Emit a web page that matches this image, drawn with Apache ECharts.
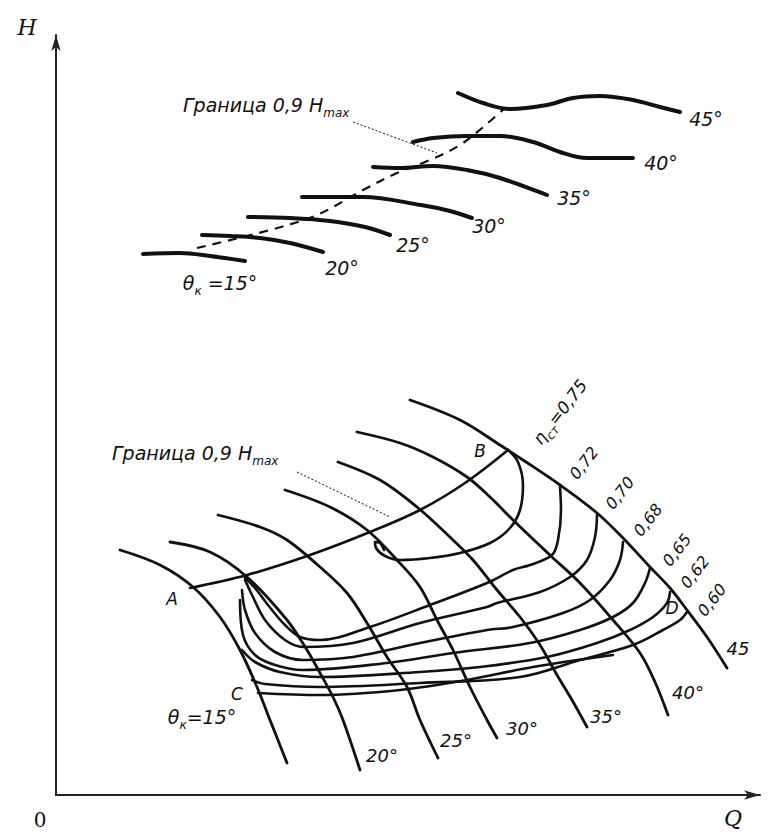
<!DOCTYPE html>
<html><head><meta charset="utf-8">
<script src="https://cdn.jsdelivr.net/npm/echarts@6/dist/echarts.min.js"></script>
<style>html,body{margin:0;padding:0;background:#fff}#c{width:770px;height:838px}</style>
</head><body><div id="c"></div>
<script>
// Axis extents (arbitrary units Q, H)
const Q_MAX = 704, H_MAX = 760;

// Upper family: H(Q) curves for each blade angle theta_k
const up15 = [[87,541],[124,542],[154,539],[189,534]];
const up20 = [[146,560],[174,559],[204,557],[234,552],[267,543]];
const up25 = [[192,578],[234,577],[274,574],[309,568],[334,560]];
const up30 = [[246,598],[307,598],[365,590],[394,584],[416,577]];
const up35 = [[317,628],[344,627],[377,629],[411,625],[444,617],[491,600]];
const up40 = [[357,653],[377,657],[411,659],[444,659],[477,653],[504,643],[531,637],[577,637]];
const up45 = [[402,702],[427,692],[454,686],[491,690],[517,697],[544,699],[577,695],[604,688],[624,683]];
const upBoundary = [[141,547],[214,565],[261,580],[307,605],[341,622],[374,635],[404,650],[426,667],[449,687]];
const upLeader = [[297,673],[381,642]];

// Lower family: characteristic arcs for each theta_k
const low15 = [[64,245],[104,230],[137,208],[164,178],[184,145],[201,108],[214,75],[231,32]];
const low20 = [[114,253],[154,243],[191,218],[231,175],[251,145],[264,122],[277,98],[287,75],[304,25]];
const low25 = [[162,280],[204,268],[231,255],[264,228],[291,202],[311,172],[331,138],[351,108],[364,75],[382,37]];
const low30 = [[229,305],[274,288],[311,265],[341,235],[364,208],[381,175],[397,145],[414,108],[431,75],[441,57]];
const low35 = [[282,333],[324,315],[361,288],[397,255],[417,235],[441,205],[464,178],[484,150],[501,120],[516,95],[531,68]];
const low40 = [[301,363],[344,352],[377,338],[411,318],[434,298],[457,275],[496,238],[524,212],[557,175],[584,142],[599,113],[612,80]];
const low45 = [[354,395],[404,375],[444,350],[467,335],[504,310],[541,282],[567,257],[594,228],[614,207],[631,185],[651,158],[671,127]];
const lineAB = [[134,207],[191,220],[254,240],[314,263],[364,285],[409,312],[452,345]];
const lowLeader = [[241,323],[334,278]];

// Efficiency contours eta_st
const eta75 = [[452,345],[462,333],[467,310],[464,285],[454,267],[434,252],[404,242],[374,237],[344,235],[329,239],[320,247],[319,253],[324,252],[328,245]];
const eta72 = [[504,308],[505,285],[502,255],[496,240],[474,230],[457,225],[431,212],[374,190],[314,168],[264,155],[244,158],[229,170],[212,190],[199,207],[189,217]];
const eta70 = [[541,280],[539,258],[531,235],[514,218],[484,203],[441,192],[431,188],[364,172],[297,152],[247,148],[229,155],[209,175],[196,200],[189,215]];
const eta68 = [[567,253],[564,235],[554,215],[534,195],[507,182],[457,168],[431,165],[364,152],[297,138],[247,135],[219,143],[199,162],[189,185],[186,205]];
const eta65 = [[594,227],[589,212],[577,192],[557,178],[524,165],[474,152],[397,142],[331,132],[247,125],[219,130],[199,140],[187,160],[184,195]];
const eta62 = [[614,203],[611,192],[597,178],[574,165],[541,152],[491,138],[424,128],[364,123],[264,118],[224,123],[199,133],[186,145]];
const eta60 = [[631,183],[624,175],[607,165],[577,150],[524,135],[464,118],[364,112],[264,108],[209,111],[196,115]];
const etaLow = [[557,140],[477,128],[411,115],[344,105],[264,100],[202,102]];

// Text labels and their anchor values
const upperDegText = ['45°','40°','35°','30°','25°','20°','{m|θ}{k|к}{m| =15°}'];
const upperDegAt = [[650,676],[605,632],[518,597],[433,569],[357,550],[286,527],[164,512]];
const lowerDegText = ['45','40°','35°','30°','25°','20°','{m|θ}{k|к}{m|=15°}'];
const lowerDegAt = [[682,147],[632,103],[550,79],[466,67],[400,55],[326,40],[146,78]];
const etaText = ['{e|η}{s|ст}{e|=0,75}','0,72','0,70','0,68','0,65','0,62','0,60'];
const etaAt = [[504,383],[528,332],[564,302],[592,275],[621,245],[639,223],[656,195]];
const pointText = ['A','B','C','D'];
const pointAt = [[116,196],[424,344],[181,101],[616,187]];
const boundaryText = ['{m|Граница 0,9 }{m|H}{k|max}','{m|Граница 0,9 }{m|H}{k|max}'];
const boundaryAt = [[127,690],[56,342]];

const INK = '#111';
const FONT = '"DejaVu Sans", sans-serif';
const RICH = {
  m: {fontSize: 19, lineHeight: 28, fontStyle: 'italic', fontFamily: FONT, color: INK},
  k: {fontSize: 12, lineHeight: 28, verticalAlign: 'bottom', fontStyle: 'italic', fontFamily: FONT, color: INK},
  e: {fontSize: 17, lineHeight: 26, fontStyle: 'italic', fontFamily: FONT, color: INK},
  s: {fontSize: 12, lineHeight: 26, verticalAlign: 'bottom', fontStyle: 'italic', fontFamily: FONT, color: INK}
};

function curve(data, width, extra) {
  return Object.assign({
    type: 'line', data: data, showSymbol: false, symbol: 'none', smooth: 0.35,
    silent: true, clip: false, animation: false,
    lineStyle: {color: INK, width: width, cap: 'round', join: 'round'}
  }, extra || {});
}
function labels(texts, anchors, size, rotate, align) {
  return {
    type: 'scatter', symbolSize: 0, clip: false, silent: true, animation: false,
    itemStyle: {color: INK},
    data: texts.map((t, i) => ({name: t, value: anchors[i]})),
    label: {
      show: true, position: 'inside', formatter: p => p.name,
      color: INK, opacity: 1, textBorderWidth: 0,
      fontFamily: FONT, fontStyle: 'italic', fontSize: size,
      rotate: rotate, align: align, verticalAlign: 'middle', rich: RICH
    }
  };
}

const axisCommon = {
  type: 'value', min: 0,
  axisLine: {show: true, symbol: ['none', 'arrow'], symbolSize: [7, 16],
    lineStyle: {color: '#222', width: 2}},
  axisTick: {show: false}, axisLabel: {show: false}, splitLine: {show: false}
};

const chart = echarts.init(document.getElementById('c'), null, {renderer: 'svg'});
chart.setOption({
  backgroundColor: '#fff',
  animation: false,
  grid: {left: 56, right: 10, top: 35, bottom: 43},
  xAxis: Object.assign({}, axisCommon, {max: Q_MAX}),
  yAxis: Object.assign({}, axisCommon, {max: H_MAX}),
  graphic: [
    {type: 'text', x: 27, y: 27, style: {text: 'H', font: 'italic 22px "DejaVu Serif", serif', align: 'center', verticalAlign: 'middle', fill: INK}},
    {type: 'text', x: 40, y: 820, style: {text: '0', font: '20px "DejaVu Serif", serif', align: 'center', verticalAlign: 'middle', fill: INK}},
    {type: 'text', x: 733, y: 818, style: {text: 'Q', font: 'italic 22px "DejaVu Serif", serif', align: 'center', verticalAlign: 'middle', fill: INK}}
  ],
  series: [
    curve(up15, 4), curve(up20, 4), curve(up25, 4), curve(up30, 4),
    curve(up35, 4), curve(up40, 4), curve(up45, 4),
    curve(upBoundary, 2.2, {lineStyle: {color: INK, width: 2.2, type: [9, 7]}}),
    curve(upLeader, 1, {smooth: false, lineStyle: {color: INK, width: 1, type: [2, 2]}}),
    curve(low15, 2.8), curve(low20, 2.8), curve(low25, 2.8), curve(low30, 2.8),
    curve(low35, 2.8), curve(low40, 2.8), curve(low45, 2.8),
    curve(lineAB, 2.6),
    curve(lowLeader, 1, {smooth: false, lineStyle: {color: INK, width: 1, type: [2, 2]}}),
    curve(eta75, 2.6), curve(eta72, 2.6), curve(eta70, 2.6), curve(eta68, 2.6),
    curve(eta65, 2.6), curve(eta62, 2.6), curve(eta60, 2.6), curve(etaLow, 2.6),
    labels(upperDegText, upperDegAt, 19, 0, 'center'),
    labels(lowerDegText, lowerDegAt, 18, 0, 'center'),
    labels(etaText, etaAt, 16, 52, 'center'),
    labels(pointText, pointAt, 17, 0, 'center'),
    labels(boundaryText, boundaryAt, 19, 0, 'left')
  ]
});
</script></body></html>
